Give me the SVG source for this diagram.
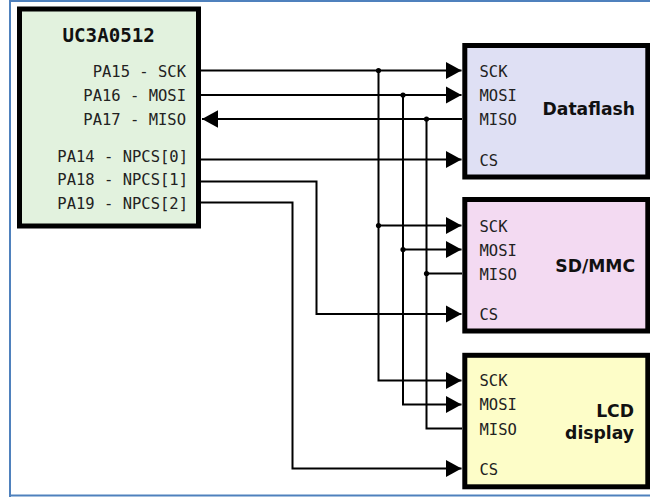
<svg xmlns="http://www.w3.org/2000/svg" width="650" height="497" viewBox="0 0 650 497">
<style>
.box{stroke:#000;stroke-width:5}
.w{fill:none;stroke:#000;stroke-width:2}
.p{font:15.5px "DejaVu Sans Mono",monospace;fill:#222;text-anchor:end}
.s{font:15.5px "DejaVu Sans Mono",monospace;fill:#222}
.b{font:bold 17.2px "DejaVu Sans",sans-serif;fill:#111;text-anchor:end}
.t{font:bold 19.2px "DejaVu Sans Mono",monospace;fill:#111}
</style>
<defs>
<marker id="a" markerUnits="userSpaceOnUse" markerWidth="16" markerHeight="18" refX="16" refY="9" orient="auto"><path d="M0 0.3L16 9L0 17.7Z" fill="#000"/></marker>
</defs>
<rect width="650" height="497" fill="#fff"/>
<path d="M10 497V1H650M10 495.500H650" fill="none" stroke="#4f81bd" stroke-width="2"/>
<g id="connectors">
<path class="w" marker-end="url(#a)" d="M201 70.500H461.500"/>
<path class="w" marker-end="url(#a)" d="M201 95H461.500"/>
<path class="w" marker-end="url(#a)" d="M462 119H202"/>
<path class="w" marker-end="url(#a)" d="M201 159.500H461.500"/>
<path class="w" marker-end="url(#a)" d="M201 181.500H316.500V314H461.500"/>
<path class="w" marker-end="url(#a)" d="M201 202.500H292.500V468.500H461.500"/>
<path class="w" marker-end="url(#a)" d="M378.500 70.500V380.500H461.500"/>
<path class="w" marker-end="url(#a)" d="M403 95V404.500H461.500"/>
<path class="w" d="M426.500 119V428.500H462"/>
<path class="w" marker-end="url(#a)" d="M378.500 225.500H461.500"/>
<path class="w" marker-end="url(#a)" d="M403 249.500H461.500"/>
<path class="w" d="M426.500 273.500H462"/>
<g>
<circle cx="378.500" cy="70.500" r="2.600"/><circle cx="403" cy="95" r="2.600"/><circle cx="426.500" cy="119" r="2.600"/>
<circle cx="378.500" cy="225.500" r="2.600"/><circle cx="403" cy="249.500" r="2.600"/><circle cx="426.500" cy="273.500" r="2.600"/>
</g>
</g>
<g id="uc3a0512">
<rect class="box" x="19.500" y="9" width="179" height="217" fill="#e2f2de"/>
<text class="t" x="62.500" y="41.500">UC3A0512</text>
<text class="p" x="186" y="76.500">PA15 - SCK</text>
<text class="p" x="186" y="101">PA16 - MOSI</text>
<text class="p" x="186" y="125">PA17 - MISO</text>
<text class="p" x="188" y="161.500">PA14 - NPCS[0]</text>
<text class="p" x="188" y="185">PA18 - NPCS[1]</text>
<text class="p" x="188" y="208.500">PA19 - NPCS[2]</text>
</g>
<g id="dataflash">
<rect class="box" x="464.800" y="45.500" width="183" height="131.500" fill="#dfe0f4"/>
<text class="s" x="479.500" y="76.500">SCK</text><text class="s" x="479.500" y="101">MOSI</text><text class="s" x="479.500" y="125">MISO</text><text class="s" x="479.500" y="165.500">CS</text>
<text class="b" x="635" y="115">Dataflash</text>
</g>
<g id="sdmmc">
<rect class="box" x="464.800" y="199.500" width="183" height="131.500" fill="#f3daf2"/>
<text class="s" x="479.500" y="231.500">SCK</text><text class="s" x="479.500" y="255.500">MOSI</text><text class="s" x="479.500" y="279.500">MISO</text><text class="s" x="479.500" y="320">CS</text>
<text class="b" x="635" y="272">SD/MMC</text>
</g>
<g id="lcd">
<rect class="box" x="464.800" y="355.300" width="183" height="131.500" fill="#fdfdc8"/>
<text class="s" x="479.500" y="386">SCK</text><text class="s" x="479.500" y="410">MOSI</text><text class="s" x="479.500" y="434.500">MISO</text><text class="s" x="479.500" y="474.500">CS</text>
<text class="b" x="634" y="417">LCD</text><text class="b" x="634" y="439">display</text>
</g>
</svg>
